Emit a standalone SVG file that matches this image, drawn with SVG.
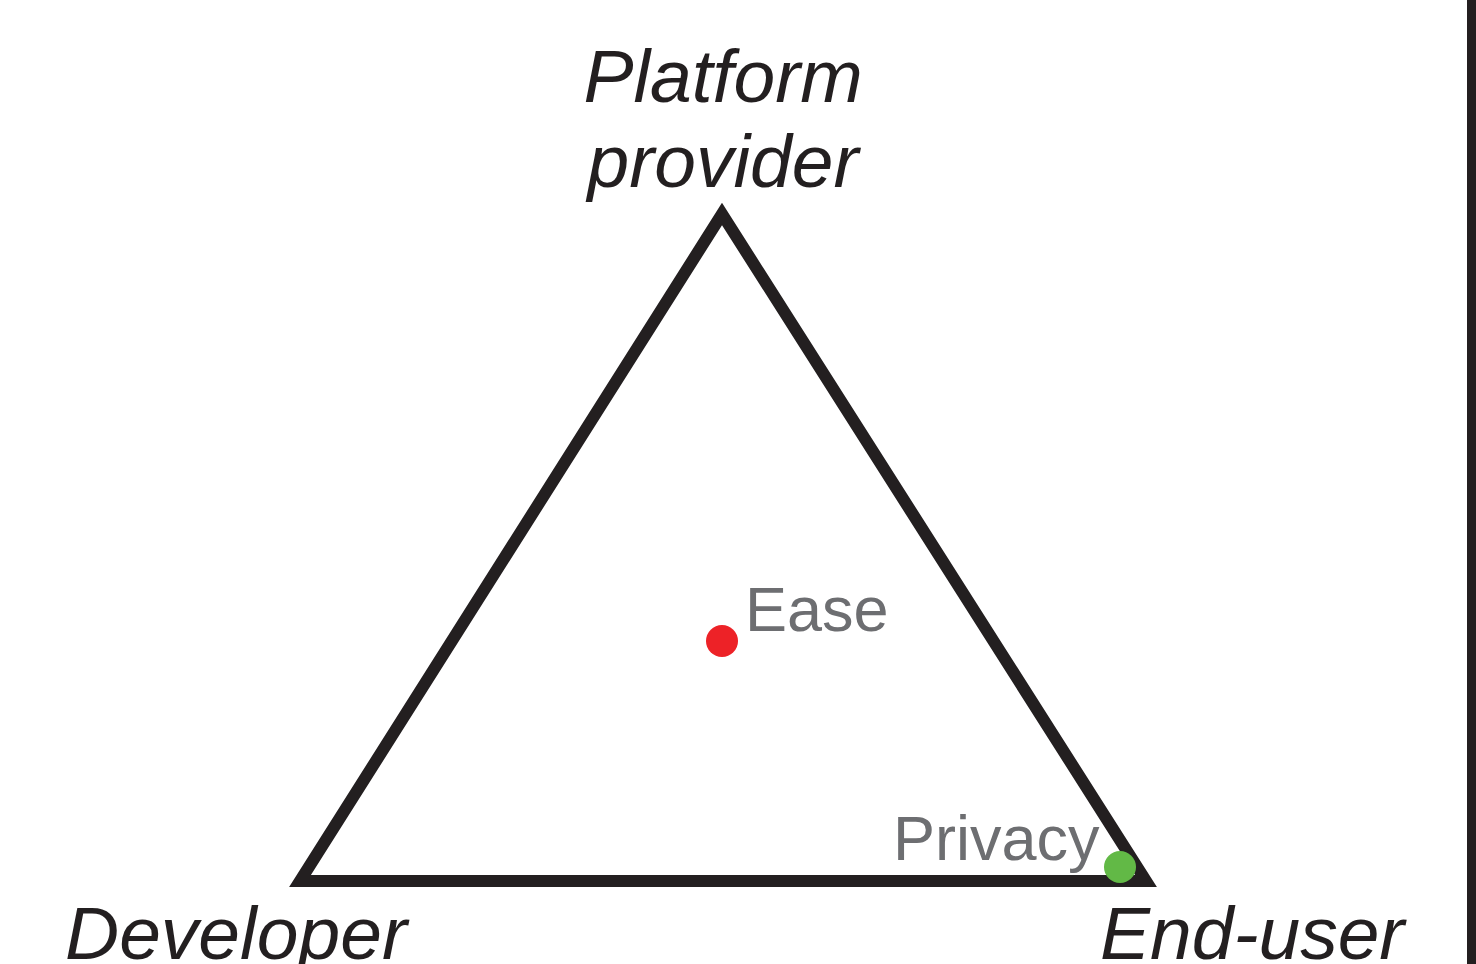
<svg xmlns="http://www.w3.org/2000/svg" width="1476" height="964" viewBox="0 0 1476 964">
<style>
.corner{font-family:"Liberation Sans",Arial,sans-serif;font-style:italic;font-size:75px;fill:#231f20}
.prop{font-family:"Liberation Sans",Arial,sans-serif;font-size:63px;fill:#6d6e71}
</style>
<rect width="1476" height="964" fill="#fff"/>
<rect x="1467" y="0" width="9" height="964" fill="#231f20"/>
<g id="connectors">
<polygon points="722,214 300,881 1146,881" fill="none" stroke="#231f20" stroke-width="12" stroke-linejoin="miter" stroke-miterlimit="10"/>
</g>
<g id="platform"><text class="corner" x="723" y="102" text-anchor="middle">Platform</text><text class="corner" x="723" y="187" text-anchor="middle">provider</text></g>
<g id="developer"><text class="corner" x="65" y="959">Developer</text></g>
<g id="enduser"><text class="corner" x="1100" y="959">End-user</text></g>
<g id="ease"><circle cx="722" cy="641" r="16" fill="#ed2227"/><text class="prop" x="745" y="631">Ease</text></g>
<g id="privacy"><text class="prop" x="893" y="860">Privacy</text><circle cx="1120" cy="867" r="16" fill="#62b946"/></g>
</svg>
